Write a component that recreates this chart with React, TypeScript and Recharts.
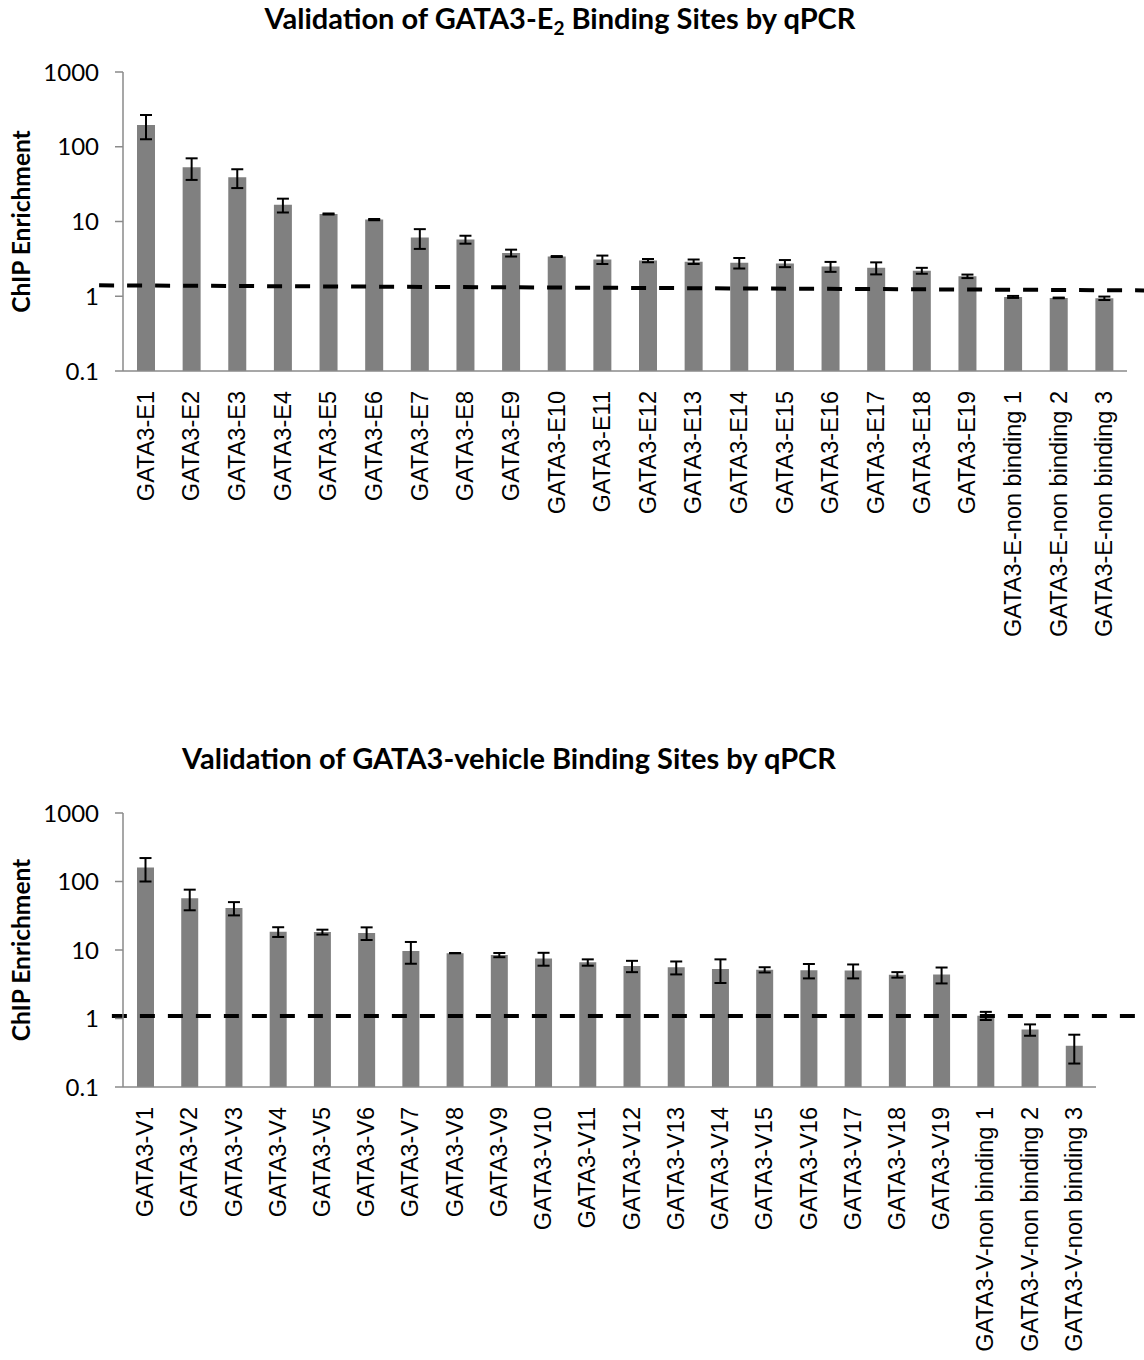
import React from 'react'
import { BarChart, Bar, XAxis, YAxis, ErrorBar, ReferenceLine } from 'recharts'

// GATA3-E2 sites
const sitesE = [
  'GATA3-E1', 'GATA3-E2', 'GATA3-E3', 'GATA3-E4', 'GATA3-E5', 'GATA3-E6', 'GATA3-E7',
  'GATA3-E8', 'GATA3-E9', 'GATA3-E10', 'GATA3-E11', 'GATA3-E12', 'GATA3-E13', 'GATA3-E14',
  'GATA3-E15', 'GATA3-E16', 'GATA3-E17', 'GATA3-E18', 'GATA3-E19',
  'GATA3-E-non binding 1', 'GATA3-E-non binding 2', 'GATA3-E-non binding 3',
]
const enrichE = [196, 53, 39, 16.7, 12.6, 10.6, 6.1, 5.75, 3.8, 3.4, 3.1, 3.0, 2.9, 2.8, 2.75, 2.5, 2.4, 2.2, 1.85, 0.98, 0.95, 0.94]
const errE = [70, 17, 11, 3.5, 0.2, 0.2, 1.8, 0.7, 0.4, 0.05, 0.4, 0.15, 0.2, 0.45, 0.3, 0.38, 0.44, 0.2, 0.1, 0.03, 0.01, 0.05]
// dashed threshold: [start, end] value, drawn across category-index span
const cutoffE = [1.4, 1.19]
const cutoffSpanE = [-0.5, 22.3]

// GATA3-vehicle sites
const sitesV = [
  'GATA3-V1', 'GATA3-V2', 'GATA3-V3', 'GATA3-V4', 'GATA3-V5', 'GATA3-V6', 'GATA3-V7',
  'GATA3-V8', 'GATA3-V9', 'GATA3-V10', 'GATA3-V11', 'GATA3-V12', 'GATA3-V13', 'GATA3-V14',
  'GATA3-V15', 'GATA3-V16', 'GATA3-V17', 'GATA3-V18', 'GATA3-V19',
  'GATA3-V-non binding 1', 'GATA3-V-non binding 2', 'GATA3-V-non binding 3',
]
const enrichV = [160, 57, 41, 18.5, 18.3, 17.7, 9.7, 9.0, 8.45, 7.5, 6.6, 5.85, 5.6, 5.3, 5.15, 5.05, 5.0, 4.35, 4.4, 1.1, 0.69, 0.4]
const errV = [60, 19, 9, 3, 1.5, 3.7, 3.4, 0.05, 0.6, 1.6, 0.7, 1.1, 1.2, 2, 0.45, 1.2, 1.15, 0.4, 1.15, 0.15, 0.13, 0.18]
const cutoffV = [1.09, 1.09]
const cutoffSpanV = [-0.24, 22.28]

const yTicks = [0.1, 1, 10, 100, 1000]

const AXIS = '#8a8a8a'
const BAR = '#808080'

const RotatedTick = ({ x, y, payload }: any) => (
  <text
    x={x}
    y={y + 12}
    transform={`rotate(-90, ${x}, ${y + 12})`}
    textAnchor="end"
    dominantBaseline="central"
    fontFamily="'Liberation Sans', Arial, sans-serif"
    fontSize={23.5}
    fill="#000"
  >
    {payload.value}
  </text>
)

interface PanelProps {
  names: string[]
  values: number[]
  errors: number[]
  cutoff: number[]
  span: number[]
  height: number
  marginTop: number
  marginRight: number
  labelHeight: number
  barSize: number
}

const Panel = ({ names, values, errors, cutoff, span, height, marginTop, marginRight, labelHeight, barSize }: PanelProps) => {
  const data = names.map((name, i) => ({ name, value: values[i], err: errors[i] }))
  const n = names.length
  return (
    <BarChart
      width={1144}
      height={height}
      data={data}
      margin={{ top: marginTop, right: marginRight, bottom: 0, left: 0 }}
    >
      {/* boundary ticks like Excel, plus the span for the cutoff line */}
      <XAxis
        xAxisId={0}
        type="number"
        domain={[0, n]}
        ticks={Array.from({ length: n + 1 }, (_, i) => i)}
        allowDataOverflow
        tick={false}
        tickSize={8}
        height={8}
        axisLine={{ stroke: AXIS, strokeWidth: 1.5 }}
        tickLine={{ stroke: AXIS, strokeWidth: 1.5 }}
      />
      <XAxis
        xAxisId="cat"
        dataKey="name"
        type="category"
        interval={0}
        axisLine={false}
        tickLine={false}
        tickSize={0}
        tickMargin={0}
        height={labelHeight}
        tick={<RotatedTick />}
      />
      <YAxis
        scale="log"
        type="number"
        domain={[0.1, 1000]}
        ticks={yTicks}
        allowDataOverflow
        width={123}
        tickSize={8}
        tickMargin={16}
        axisLine={{ stroke: AXIS, strokeWidth: 1.5 }}
        tickLine={{ stroke: AXIS, strokeWidth: 1.5 }}
        tick={{ fontFamily: 'Lato, sans-serif', fontSize: 24, fill: '#000' }}
        tickFormatter={(v: number) => String(v)}
        label={{
          value: 'ChIP Enrichment',
          angle: -90,
          position: 'center',
          dx: -40,
          style: { fontFamily: 'Lato, sans-serif', fontSize: 24.5, fontWeight: 700, fill: '#000' },
        }}
      />
      <Bar xAxisId="cat" dataKey="value" fill={BAR} barSize={barSize} isAnimationActive={false}>
        <ErrorBar dataKey="err" direction="y" width={6} stroke="#000" strokeWidth={2} />
      </Bar>
      <ReferenceLine
        xAxisId={0}
        ifOverflow="visible"
        segment={[
          { x: span[0], y: cutoff[0] },
          { x: span[1], y: cutoff[1] },
        ]}
        stroke="#000"
        strokeWidth={4}
        strokeDasharray="15 13"
      />
    </BarChart>
  )
}

export default function App() {
  const titleStyle = { fontFamily: 'Lato, sans-serif', fontSize: 29, fontWeight: 700, fill: '#000' }
  return (
    <div style={{ position: 'absolute', left: 0, top: 0, width: 1144, height: 1360, background: '#fff' }}>
      <div style={{ position: 'absolute', left: 0, top: 0 }}>
        <Panel
          names={sitesE}
          values={enrichE}
          errors={errE}
          cutoff={cutoffE}
          span={cutoffSpanE}
          height={660}
          marginTop={72}
          marginRight={17}
          labelHeight={281}
          barSize={18}
        />
      </div>
      <div style={{ position: 'absolute', left: 0, top: 740 }}>
        <Panel
          names={sitesV}
          values={enrichV}
          errors={errV}
          cutoff={cutoffV}
          span={cutoffSpanV}
          height={620}
          marginTop={73}
          marginRight={48}
          labelHeight={265}
          barSize={17}
        />
      </div>
      <svg width={1144} height={1360} style={{ position: 'absolute', left: 0, top: 0, pointerEvents: 'none' }}>
        <text x={560} y={29} textAnchor="middle" style={titleStyle}>
          Validation of GATA3-E<tspan fontSize={19} dy={6}>2</tspan>
          <tspan dy={-6}> Binding Sites by qPCR</tspan>
        </text>
        <text x={509} y={769} textAnchor="middle" style={titleStyle}>
          Validation of GATA3-vehicle Binding Sites by qPCR
        </text>
      </svg>
    </div>
  )
}
